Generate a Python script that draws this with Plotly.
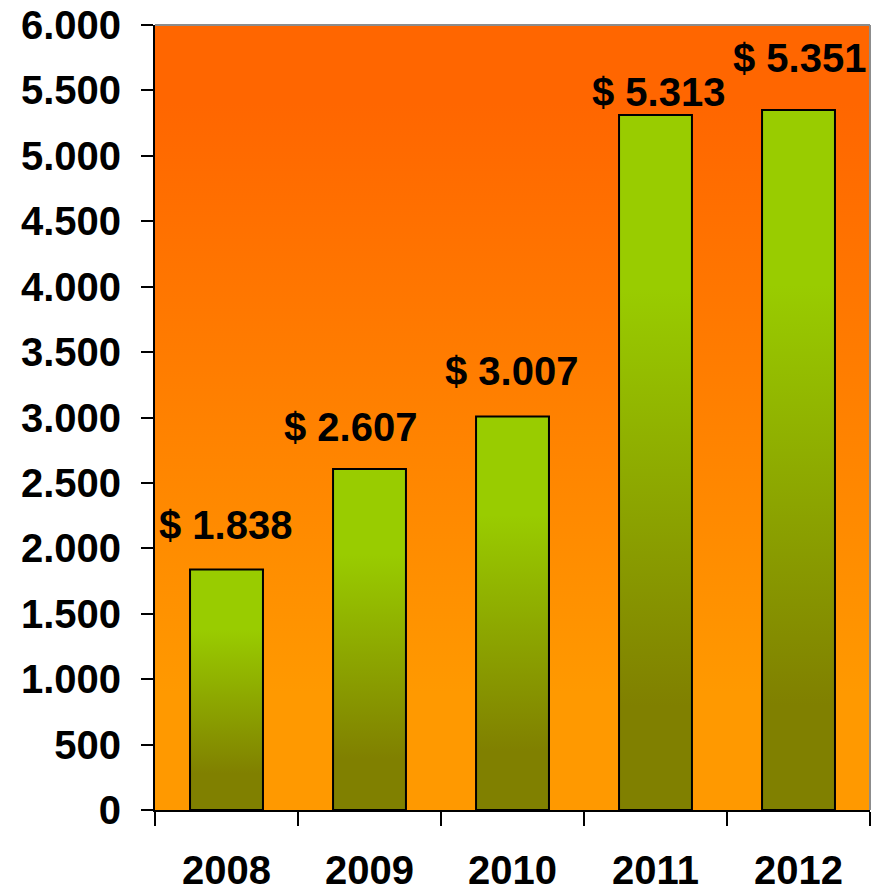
import base64
import plotly.graph_objects as go

# Datos
YEARS = ["2008", "2009", "2010", "2011", "2012"]
VALUES = [1838, 2607, 3007, 5313, 5351]
LABELS = ["$ 1.838", "$ 2.607", "$ 3.007", "$ 5.313", "$ 5.351"]

# desplazamientos manuales de las etiquetas (px)
LABEL_XSHIFT = [-1, -19, -1, 3, 1]
LABEL_YSHIFT = [21, 18, 22, -1, 28]

FONT = "Liberation Sans, Arial, sans-serif"
FSIZE = 40
BAR_HALF = 0.255

# fondo degradado naranja (svg embebido)
bg_svg = """<svg xmlns='http://www.w3.org/2000/svg' width='100' height='100' preserveAspectRatio='none'>
<defs><linearGradient id='g' x1='0' y1='0' x2='0' y2='1'>
<stop offset='0' stop-color='#FF6600'/><stop offset='0.1' stop-color='#FF6600'/>
<stop offset='0.85' stop-color='#FF9900'/><stop offset='1' stop-color='#FF9900'/>
</linearGradient></defs><rect width='100' height='100' fill='url(#g)'/></svg>"""
bg_uri = "data:image/svg+xml;base64," + base64.b64encode(bg_svg.encode()).decode()

fig = go.Figure()

for i, (year, val) in enumerate(zip(YEARS, VALUES)):
    fig.add_trace(go.Scatter(
        x=[i - BAR_HALF, i - BAR_HALF, i + BAR_HALF, i + BAR_HALF, i - BAR_HALF],
        y=[0, val, val, 0, 0],
        mode="lines",
        fill="toself",
        fillgradient=dict(
            type="vertical",
            colorscale=[[0, "#808000"], [0.15, "#808000"], [0.75, "#99CC00"], [1, "#99CC00"]],
        ),
        line=dict(color="black", width=2),
        name=year,
        hoverinfo="skip",
        showlegend=False,
    ))
    fig.add_annotation(
        x=i, y=val, text=LABELS[i],
        showarrow=False, yanchor="bottom",
        xshift=LABEL_XSHIFT[i], yshift=LABEL_YSHIFT[i],
        font=dict(family=FONT, size=FSIZE, color="black", weight="bold"),
    )

fig.add_layout_image(
    source=bg_uri, xref="paper", yref="paper", x=0, y=1,
    sizex=1, sizey=1, sizing="stretch", xanchor="left", yanchor="top",
    layer="below",
)

# borde gris superior y derecho
fig.add_shape(type="line", xref="paper", yref="paper", x0=0, x1=1, y0=1, y1=1,
              line=dict(color="#8C8C8C", width=2))
fig.add_shape(type="line", xref="paper", yref="paper", x0=1, x1=1, y0=0, y1=1,
              line=dict(color="#8C8C8C", width=2))

# la página añade 8px de margen al cuerpo, se compensa aquí
fig.update_layout(
    width=873, height=883,
    margin=dict(l=147, r=11, t=17, b=81),
    paper_bgcolor="white",
    plot_bgcolor="rgba(0,0,0,0)",
    separators=",.",
    showlegend=False,
    font=dict(family=FONT, size=FSIZE, color="black", weight="bold"),
)
fig.update_xaxes(
    range=[-0.5, 4.5], automargin=False,
    tickmode="array", tickvals=list(range(len(YEARS))), ticktext=YEARS,
    ticks="", showgrid=False, zeroline=False,
    showline=True, linecolor="black", linewidth=2,
    ticklabelstandoff=24, ticklabeloverflow="allow",
    minor=dict(tick0=0.5, dtick=1, ticks="outside", ticklen=14, tickwidth=2,
               tickcolor="black", showgrid=False),
    tickfont=dict(family=FONT, size=FSIZE, color="black", weight="bold"),
)
fig.update_yaxes(
    range=[0, 6000], dtick=500, tick0=0, automargin=False,
    separatethousands=True,
    ticks="outside", ticklen=12, tickwidth=2, tickcolor="black",
    showgrid=False, zeroline=False,
    showline=True, linecolor="black", linewidth=2,
    ticklabelstandoff=12, ticklabeloverflow="allow",
    tickfont=dict(family=FONT, size=FSIZE, color="black", weight="bold"),
)

fig.write_html("out.html")
